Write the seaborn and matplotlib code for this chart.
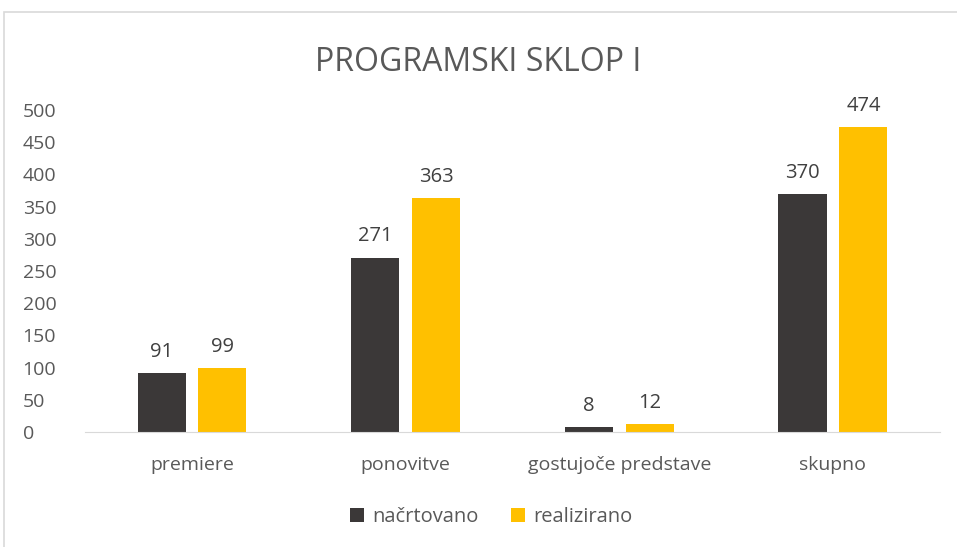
import seaborn as sns
import matplotlib.pyplot as plt
import pandas as pd
from matplotlib.patches import Rectangle

# podatki
kategorije = ['premiere', 'ponovitve', 'gostujoče predstave', 'skupno']
nacrtovano = [91, 271, 8, 370]
realizirano = [99, 363, 12, 474]
serije = ['načrtovano', 'realizirano']

df = pd.DataFrame({
    'kategorija': kategorije * 2,
    'serija': [serije[0]] * len(kategorije) + [serije[1]] * len(kategorije),
    'vrednost': nacrtovano + realizirano,
})

sns.set_style('white')
plt.rcParams['font.family'] = ['Open Sans', 'DejaVu Sans']
siva = '#595959'

fig = plt.figure(figsize=(9.57, 5.47), dpi=100)
ax = fig.add_axes([0.089, 0.21, 0.893, 0.589])

sns.barplot(data=df, x='kategorija', y='vrednost', hue='serija',
            palette=['#3B3838', '#FFC000'], saturation=1, width=0.57, gap=0.21,
            errorbar=None, linewidth=0, ax=ax)

for c in ax.containers:
    ax.bar_label(c, padding=8, fontsize=14.5, color='#404040')

ax.set_ylim(0, 500)
ax.set_yticks(range(0, 501, 50))
ax.tick_params(axis='both', colors=siva, labelsize=14, length=0)
ax.tick_params(axis='x', pad=17)
ax.tick_params(axis='y', pad=45)
for lab in ax.get_yticklabels():
    lab.set_horizontalalignment('left')
ax.set_xlabel('')
ax.set_ylabel('')
for s in ['top', 'right', 'left']:
    ax.spines[s].set_visible(False)
ax.spines['bottom'].set_color('#D9D9D9')

ax.legend(loc='upper center', bbox_to_anchor=(0.475, -0.175), ncol=2, frameon=False,
          fontsize=14.5, labelcolor=siva, handlelength=0.7, handleheight=0.7,
          handletextpad=0.4, columnspacing=1.6)

fig.text(0.5, 0.885, 'PROGRAMSKI SKLOP I', ha='center', va='center',
         fontsize=23, color=siva)

fig.patches.append(Rectangle((0.004, -0.01), 1.1, 0.988, transform=fig.transFigure,
                             fill=False, edgecolor='#D9D9D9', linewidth=1.2))

fig.savefig('out.png', dpi=100)
